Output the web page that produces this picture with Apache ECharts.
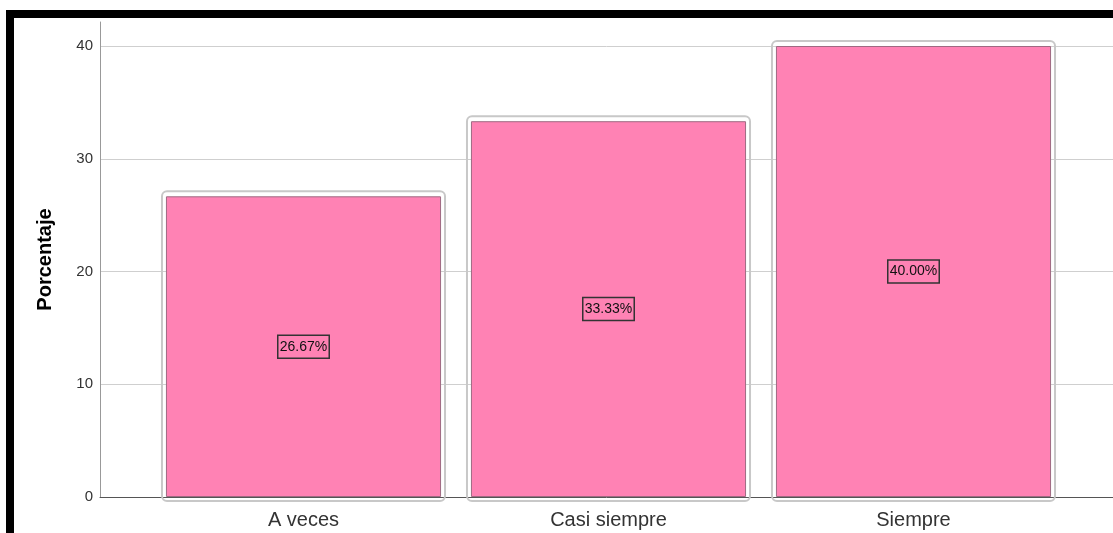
<!DOCTYPE html>
<html>
<head>
<meta charset="utf-8">
<script src="https://cdn.jsdelivr.net/npm/echarts@6/dist/echarts.min.js"></script>
<style>
  html, body { margin: 0; padding: 0; background: #fff; }
  #wrap { position: relative; width: 1113px; height: 533px; overflow: hidden; }
  #frame { position: absolute; left: 6px; top: 10px; width: 2000px; height: 2000px;
           border-top: 8px solid #000; border-left: 8px solid #000; }
  #main { position: absolute; left: 0; top: 0; width: 1113px; height: 533px; }
</style>
</head>
<body>
<div id="wrap">
  <div id="frame"></div>
  <div id="main"></div>
</div>
<script>
// categorías y porcentajes
var categorias = ['A veces', 'Casi siempre', 'Siempre'];
var porcentajes = [26.67, 33.33, 40.00];
var ticksY = [0, 10, 20, 30, 40];

var font = 'Liberation Sans, Arial, sans-serif';
var yMax = 42.13;

var chart = echarts.init(document.getElementById('main'));

var option = {
  animation: false,
  grid: [
    { left: 100, right: 0, top: 22, bottom: 36 },
    { left: 151, right: 47, top: 22, bottom: 36 }
  ],
  xAxis: [
    {
      gridIndex: 0, type: 'value', min: 0, max: 1,
      axisLine: { show: true, lineStyle: { color: '#555', width: 1 } },
      axisTick: { show: false }, axisLabel: { show: false }, splitLine: { show: false }
    },
    {
      gridIndex: 1, type: 'category', data: categorias,
      axisLine: { show: false }, axisTick: { show: false },
      axisLabel: { fontFamily: font, fontSize: 20, color: '#333', margin: 13 }
    }
  ],
  yAxis: [
    {
      gridIndex: 0, type: 'value', min: 0, max: yMax, interval: 10,
      name: 'Porcentaje', nameLocation: 'middle', nameGap: 45,
      nameTextStyle: { fontFamily: font, fontSize: 20, fontWeight: 'bold', color: '#000' },
      axisLine: { show: true, lineStyle: { color: '#999', width: 1 } },
      axisTick: { show: false },
      axisLabel: {
        fontFamily: font, fontSize: 15, color: '#333', margin: 7,
        showMaxLabel: false,
        formatter: function (v) { return ticksY.indexOf(v) >= 0 ? String(v) : ''; }
      },
      splitLine: { show: true, showMinLine: false, showMaxLine: false, lineStyle: { color: '#cfcfcf', width: 1 } }
    },
    {
      gridIndex: 1, type: 'value', min: 0, max: yMax, interval: 10, show: false,
      splitLine: { show: false }
    }
  ],
  series: [
    {
      type: 'bar',
      xAxisIndex: 1, yAxisIndex: 1,
      data: porcentajes,
      barWidth: '90.2%',
      itemStyle: { color: '#ff82b4', borderColor: '#9e6a82', borderWidth: 1 },
      label: {
        show: true, position: 'inside',
        formatter: function (p) { return p.value.toFixed(2) + '%'; },
        fontFamily: font, fontSize: 14, color: '#111',
        borderColor: '#333', borderWidth: 1.5, padding: [5, 2, 4, 2]
      },
      z: 3
    },
    {
      type: 'custom',
      xAxisIndex: 1, yAxisIndex: 1,
      clip: false,
      data: porcentajes.map(function (v, i) { return [i, v]; }),
      renderItem: function (params, api) {
        var top = api.coord([api.value(0), api.value(1)]);
        var base = api.coord([api.value(0), 0]);
        var w = api.size([1, 0])[0] * 0.928;
        return {
          type: 'rect',
          shape: { x: top[0] - w / 2, y: top[1] - 5, width: w, height: base[1] - top[1] + 9, r: 5 },
          style: { fill: 'none', stroke: '#c8c8c8', lineWidth: 2 }
        };
      },
      z: 2
    }
  ]
};

chart.setOption(option);
window.addEventListener('resize', function () { chart.resize(); });
</script>
</body>
</html>
